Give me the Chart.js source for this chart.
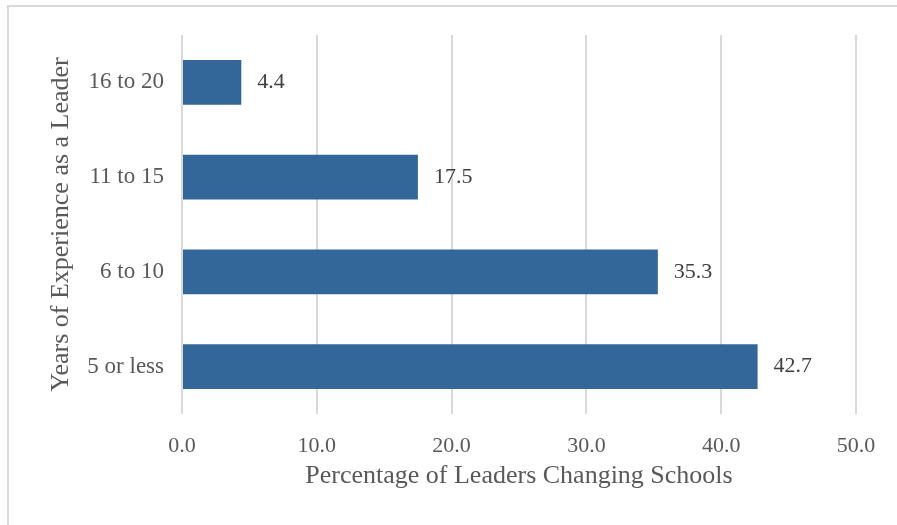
<!DOCTYPE html>
<html>
<head>
<meta charset="utf-8">
<script src="https://cdn.jsdelivr.net/npm/chart.js@4"></script>
<style>
  body { margin: 0; background: #fff; }
  #wrap { position: relative; width: 897px; height: 525px; }
</style>
</head>
<body>
<div id="wrap"><canvas id="leaderChart" width="897" height="525"></canvas></div>
<script>
const categories = ['16 to 20', '11 to 15', '6 to 10', '5 or less'];
const percentages = [4.4, 17.5, 35.3, 42.7];
const xTicks = [0, 10, 20, 30, 40, 50];

const serif = "'Liberation Serif', 'Times New Roman', serif";

// outer frame: only top and left edges are visible in the picture
const framePlugin = {
  id: 'frame',
  beforeDraw(chart) {
    const ctx = chart.ctx;
    ctx.save();
    ctx.fillStyle = '#fff';
    ctx.fillRect(0, 0, chart.width, chart.height);
    ctx.strokeStyle = '#d9d9d9';
    ctx.lineWidth = 2;
    ctx.beginPath();
    ctx.moveTo(8, chart.height);
    ctx.lineTo(8, 6);
    ctx.lineTo(chart.width, 6);
    ctx.stroke();
    ctx.restore();
  }
};

const valueLabels = {
  id: 'valueLabels',
  afterDatasetsDraw(chart) {
    const ctx = chart.ctx;
    const meta = chart.getDatasetMeta(0);
    ctx.save();
    ctx.font = '22px ' + serif;
    ctx.fillStyle = '#404040';
    ctx.textAlign = 'left';
    ctx.textBaseline = 'middle';
    meta.data.forEach((bar, i) => {
      ctx.fillText(percentages[i].toFixed(1), bar.x + 16, bar.y);
    });
    ctx.restore();
  }
};

const ctx = document.getElementById('leaderChart').getContext('2d');
new Chart(ctx, {
  type: 'bar',
  data: {
    labels: categories,
    datasets: [{
      data: percentages,
      backgroundColor: '#336699',
      borderWidth: 0,
      categoryPercentage: 1,
      barPercentage: 0.47
    }]
  },
  options: {
    indexAxis: 'y',
    responsive: false,
    animation: false,
    layout: { padding: { top: 35, right: 41, left: 0, bottom: 0 } },
    plugins: {
      legend: { display: false },
      tooltip: { enabled: false }
    },
    scales: {
      x: {
        min: 0,
        max: 50,
        afterBuildTicks(scale) {
          scale.ticks = xTicks.map(v => ({ value: v }));
        },
        afterFit(scale) { scale.height = 111; },
        grid: { color: '#d9d9d9', lineWidth: 2, drawTicks: false },
        border: { display: false },
        ticks: {
          padding: 19,
          color: '#595959',
          font: { family: serif, size: 22 },
          callback: v => Number(v).toFixed(1)
        },
        title: {
          display: true,
          text: 'Percentage of Leaders Changing Schools',
          color: '#595959',
          font: { family: serif, size: 26 },
          padding: { top: 0, bottom: 33 }
        }
      },
      y: {
        afterFit(scale) { scale.width = 182; },
        grid: { display: false, drawTicks: false },
        border: { display: false },
        ticks: {
          padding: 18,
          color: '#595959',
          font: { family: serif, size: 23 }
        },
        title: {
          display: true,
          text: 'Years of Experience as a Leader',
          color: '#595959',
          font: { family: serif, size: 26 },
          padding: { top: 46, bottom: 0 }
        }
      }
    }
  },
  plugins: [framePlugin, valueLabels]
});
</script>
</body>
</html>
